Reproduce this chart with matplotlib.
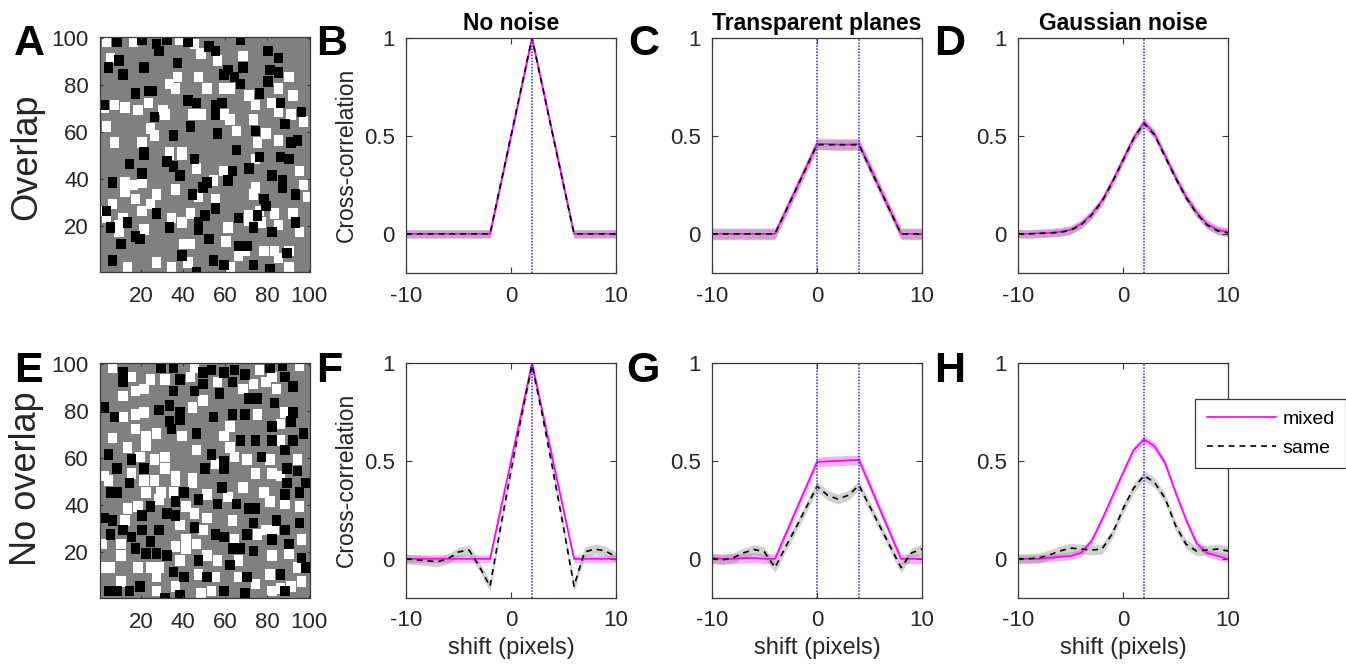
import numpy as np
import matplotlib
matplotlib.use('Agg')
import matplotlib.pyplot as plt
from matplotlib.lines import Line2D

plt.rcParams['font.family'] = ['Liberation Sans', 'DejaVu Sans']
plt.rcParams['axes.unicode_minus'] = False

W, H = 1346, 668

# shift axis (pixels)
shift = list(range(-10, 11))

# cross-correlation curves, x = -10..10
b_mixed = [0, 0, 0, 0, 0, 0, 0, 0, 0, 0.25, 0.5, 0.75, 1.0, 0.75, 0.5, 0.25, 0, 0, 0, 0, 0]
b_same = [0, 0, 0, 0, 0, 0, 0, 0, 0, 0.25, 0.5, 0.75, 1.0, 0.75, 0.5, 0.25, 0, 0, 0, 0, 0]
c_mixed = [0, 0, 0, 0, 0, 0, 0, 0.115, 0.23, 0.345, 0.46, 0.458, 0.456, 0.456, 0.458, 0.345, 0.23, 0.115, 0, 0, 0]
c_same = [0, 0, 0, 0, 0, 0, 0, 0.113, 0.227, 0.34, 0.455, 0.455, 0.455, 0.455, 0.455, 0.34, 0.227, 0.113, 0, 0, 0]
d_mixed = [0, 0, 0.003, 0.005, 0.01, 0.02, 0.05, 0.10, 0.17, 0.27, 0.38, 0.49, 0.57, 0.51, 0.40, 0.29, 0.19, 0.11, 0.05, 0.02, 0.01]
d_same = [0, 0, 0.002, 0.004, 0.008, 0.018, 0.045, 0.095, 0.165, 0.265, 0.375, 0.485, 0.565, 0.505, 0.395, 0.285, 0.185, 0.105, 0.045, 0.015, 0.005]
f_mixed = [0, 0, 0, 0, 0, 0, 0, 0, 0, 0.25, 0.5, 0.75, 1.0, 0.75, 0.5, 0.25, 0, 0, 0, 0, 0]
f_same = [0, -0.005, -0.01, -0.015, 0.0, 0.035, 0.045, -0.04, -0.14, 0.16, 0.45, 0.73, 0.99, 0.73, 0.45, 0.16, -0.14, 0.035, 0.05, 0.04, 0.01]
g_mixed = [0.005, 0, 0, 0.003, 0.005, 0, 0, 0.124, 0.248, 0.371, 0.495, 0.498, 0.5, 0.503, 0.505, 0.379, 0.252, 0.126, 0, 0, 0]
g_same = [0, -0.005, 0.005, 0.03, 0.048, 0.035, -0.045, 0.06, 0.16, 0.265, 0.37, 0.325, 0.305, 0.325, 0.375, 0.27, 0.165, 0.06, -0.045, 0.03, 0.05]
h_mixed = [0, 0, 0, 0.005, 0.01, 0.015, 0.03, 0.09, 0.2, 0.32, 0.44, 0.555, 0.61, 0.575, 0.49, 0.34, 0.2, 0.08, 0.03, 0.015, 0]
h_same = [0, 0, 0.005, 0.02, 0.04, 0.055, 0.05, 0.045, 0.05, 0.13, 0.255, 0.36, 0.425, 0.39, 0.31, 0.17, 0.075, 0.04, 0.045, 0.05, 0.04]

# half-width of shaded bands (mixed, same)
b_err = (0.022, 0.02)
c_err = (0.03, 0.025)
d_err = (0.022, 0.02)
f_err = (0.02, 0.025)
g_err = (0.025, 0.025)
h_err = (0.02, 0.025)

a_black = [(8, 98), (20, 99), (27, 97), (28, 94), (32, 99), (42, 98), (52, 96), (55, 94), (67, 99), (80, 94),
           (85, 91), (4, 87), (9, 90), (11, 84), (21, 87), (37, 89), (59, 84), (61, 86), (64, 83), (68, 87),
           (81, 86), (85, 85), (80, 81), (67, 80), (17, 76), (23, 77), (25, 77), (42, 73), (46, 72), (55, 71),
           (55, 67), (58, 72), (76, 76), (86, 72), (96, 68), (26, 66), (43, 62), (56, 59), (35, 58), (74, 60),
           (65, 52), (88, 63), (91, 55), (94, 56), (21, 51), (2, 71),
           (14, 46), (21, 50), (32, 47), (35, 45), (38, 41), (45, 48), (63, 43), (61, 39), (71, 44), (76, 49),
           (86, 49), (90, 48), (82, 41), (87, 39), (87, 36), (6, 38), (20, 42), (49, 36), (51, 38), (44, 33),
           (55, 27), (78, 31), (79, 28), (93, 33), (3, 26), (27, 25), (50, 24), (47, 21), (47, 18), (66, 23),
           (75, 24), (73, 19), (93, 21), (5, 19), (13, 21), (17, 15), (19, 14), (33, 19), (10, 12), (52, 14),
           (82, 17), (66, 11), (70, 11), (39, 7), (6, 5), (54, 5), (59, 3), (73, 3), (81, 1), (89, 8), (46, 0)]
a_white = [(3, 98), (16, 98), (38, 99), (45, 97), (48, 93), (56, 90), (68, 92), (5, 91), (37, 83), (33, 80),
           (36, 78), (47, 83), (51, 78), (59, 78), (62, 78), (71, 75), (85, 78), (90, 83), (92, 75), (2, 70),
           (7, 71), (12, 70), (18, 69), (23, 72), (30, 69), (31, 67), (44, 67), (48, 67), (59, 67), (62, 65),
           (74, 71), (73, 65), (82, 72), (85, 68), (91, 67), (3, 62), (24, 61), (26, 58), (20, 55), (7, 55),
           (33, 51), (39, 51), (65, 60), (79, 59), (75, 55), (85, 56), (97, 64),
           (33, 50), (39, 50), (74, 48), (46, 44), (59, 43), (95, 43), (54, 39), (12, 38), (16, 37), (20, 38),
           (12, 34), (36, 35), (47, 32), (74, 36), (73, 33), (17, 31), (27, 33), (24, 29), (55, 31), (6, 29),
           (97, 37), (99, 32), (1, 26), (20, 26), (43, 25), (11, 23), (3, 23), (9, 20), (34, 23), (39, 21),
           (71, 24), (76, 26), (71, 22), (77, 21), (83, 25), (92, 25), (85, 20), (61, 19), (21, 18), (9, 17),
           (95, 17), (60, 13), (43, 12), (40, 12), (69, 9), (66, 7), (78, 9), (83, 9), (85, 6), (90, 9),
           (27, 4), (13, 2), (34, 2), (42, 4), (62, 2), (90, 2)]
e_black = [(11, 96), (11, 92), (29, 98), (35, 98), (38, 93), (49, 96), (53, 97), (59, 96), (64, 97), (69, 95),
           (81, 98), (87, 99), (88, 94), (92, 90), (49, 91), (63, 92), (35, 88), (45, 88), (57, 87), (71, 85),
           (75, 85), (83, 83), (2, 81), (7, 77), (28, 80), (33, 82), (38, 79), (38, 76), (33, 75), (34, 72),
           (54, 77), (63, 78), (69, 78), (91, 75), (92, 79), (82, 73), (46, 70), (97, 70), (67, 67), (74, 67),
           (82, 67), (92, 67), (4, 61), (15, 59), (21, 55), (8, 55), (50, 55), (53, 61), (59, 58), (59, 55),
           (77, 60), (88, 63), (89, 55), (94, 54),
           (14, 49), (5, 45), (8, 45), (40, 45), (47, 42), (56, 40), (58, 47), (65, 40), (71, 38), (74, 38),
           (89, 49), (88, 44), (95, 45), (98, 49), (24, 39), (36, 41), (32, 36), (36, 35), (20, 35), (2, 34),
           (6, 33), (11, 29), (20, 29), (28, 29), (45, 30), (55, 27), (59, 26), (73, 32), (84, 33), (88, 29),
           (95, 32), (70, 27), (82, 25), (90, 23), (15, 26), (5, 27), (24, 24), (17, 21), (22, 19), (27, 19),
           (32, 18), (47, 16), (63, 21), (67, 21), (73, 20), (62, 14), (96, 17), (98, 13), (35, 11), (40, 9),
           (51, 9), (70, 9), (86, 10), (19, 5), (14, 3), (4, 3), (8, 3), (59, 3), (69, 2), (31, 0), (38, 1), (88, 3)]
e_white = [(6, 98), (15, 94), (24, 93), (31, 93), (43, 94), (45, 98), (56, 92), (73, 91), (76, 97), (82, 94),
           (79, 92), (84, 89), (95, 99), (68, 89), (17, 88), (21, 89), (11, 86), (49, 84), (44, 81), (11, 77),
           (17, 78), (21, 79), (75, 78), (88, 79), (86, 74), (62, 73), (17, 72), (27, 70), (22, 69), (22, 65),
           (39, 69), (59, 69), (6, 68), (86, 67), (13, 64), (46, 63), (62, 64), (64, 60), (19, 60), (26, 59),
           (31, 60), (31, 55), (36, 52), (15, 53), (2, 52), (55, 57), (70, 59), (81, 59), (94, 59), (74, 53),
           (82, 53), (86, 52), (44, 51),
           (4, 50), (21, 50), (26, 50), (36, 50), (44, 49), (22, 45), (29, 45), (28, 42), (35, 45), (51, 44),
           (61, 43), (68, 47), (78, 45), (81, 41), (88, 40), (95, 39), (13, 38), (18, 39), (41, 39), (45, 36),
           (12, 33), (38, 31), (51, 34), (63, 33), (49, 29), (79, 29), (83, 29), (75, 27), (64, 25), (96, 25),
           (41, 25), (41, 21), (46, 23), (36, 22), (10, 23), (1, 23), (10, 18), (51, 18), (38, 16), (56, 16),
           (66, 16), (82, 18), (90, 19), (2, 13), (5, 13), (18, 13), (24, 13), (28, 13), (27, 9), (47, 10),
           (55, 9), (66, 9), (74, 6), (81, 10), (94, 13), (96, 7), (91, 5), (10, 7), (36, 5), (48, 2),
           (53, 3), (82, 3), (86, 4), (27, 3)]

row_labels = ['Overlap', 'No overlap']
col_titles = ['No noise', 'Transparent planes', 'Gaussian noise']
img_ticks = [20, 40, 60, 80, 100]


def rect(x0, y0, x1, y1):
    return [x0 / W, 1 - y1 / H, (x1 - x0) / W, (y1 - y0) / H]


def make_image(black, white, side=9):
    # half-unit grid so a square can be 4.5 units wide
    img = np.full((202, 202), 0.5)
    for pts, v in [(white, 1.0), (black, 0.0)]:
        for x, y in pts:
            r0, c0 = max(2 * y - side // 2, 0), max(2 * x - side // 2, 0)
            img[r0:2 * y - side // 2 + side, c0:2 * x - side // 2 + side] = v
    return img


def style(ax, labelsize=16):
    for sp in ax.spines.values():
        sp.set_color('#3a3a3a')
        sp.set_linewidth(0.9)
    ax.tick_params(direction='in', length=4, width=0.8, top=True, right=True,
                   labelsize=labelsize, labelcolor='#262626', color='#3a3a3a')
    ax.tick_params(axis='x', pad=9)
    ax.tick_params(axis='y', pad=8)


def image_panel(ax, black, white):
    ax.imshow(make_image(black, white), cmap='gray', vmin=0, vmax=1, origin='lower',
              extent=(0.25, 101.25, 0.25, 101.25), aspect='auto', interpolation='nearest')
    ax.set_xlim(0.5, 100.5)
    ax.set_ylim(0.5, 100.5)
    ax.set_xticks(img_ticks)
    ax.set_yticks(img_ticks)
    style(ax)
    ax.tick_params(axis='x', pad=10, length=2)
    ax.tick_params(axis='y', length=2)


def curve_panel(ax, mixed, same, err, vlines):
    m = np.array(mixed)
    s = np.array(same)
    ax.fill_between(shift, m - err[0], m + err[0], color='#e070e0', alpha=0.5, lw=0)
    ax.fill_between(shift, s - err[1], s + err[1], color='#8c8c8c', alpha=0.4, lw=0)
    ax.plot(shift, m, color='#ff00ff', lw=1.2)
    ax.plot(shift, s, color='black', lw=1.2, ls=(0, (3.5, 3)))
    for v in vlines:
        ax.axvline(v, color='#2a2ae0', lw=1.1, ls=(0, (1, 1)), zorder=5)
    ax.set_xlim(-10, 10)
    ax.set_ylim(-0.2, 1)
    ax.set_xticks([-10, 0, 10])
    ax.set_yticks([0, 0.5, 1])
    ax.set_yticklabels(['0', '0.5', '1'])
    style(ax)


fig = plt.figure(figsize=(W / 100, H / 100), dpi=100)

top_y, bot_y = (37, 272), (363, 598)
cols_x = [(406, 616), (712, 922), (1018, 1228)]

ax_a = fig.add_axes(rect(100, top_y[0], 310, top_y[1]))
image_panel(ax_a, a_black, a_white)
ax_e = fig.add_axes(rect(100, bot_y[0], 310, bot_y[1]))
image_panel(ax_e, e_black, e_white)

top_data = [(b_mixed, b_same, b_err, [2]), (c_mixed, c_same, c_err, [0, 4]), (d_mixed, d_same, d_err, [2])]
bot_data = [(f_mixed, f_same, f_err, [2]), (g_mixed, g_same, g_err, [0, 4]), (h_mixed, h_same, h_err, [2])]

for i, (x0, x1) in enumerate(cols_x):
    ax = fig.add_axes(rect(x0, top_y[0] + 1, x1, top_y[1] + 1))
    curve_panel(ax, *top_data[i])
    ax.set_title(col_titles[i], fontsize=16.5, fontweight='bold', pad=6)
    ax = fig.add_axes(rect(x0, bot_y[0], x1, bot_y[1]))
    curve_panel(ax, *bot_data[i])
    ax.set_xlabel('shift (pixels)', fontsize=17, labelpad=4, color='#262626')

# y labels for first curve column
fig.text(346 / W, 1 - 155 / H, 'Cross-correlation', rotation=90, fontsize=16.5,
         ha='center', va='center', color='#262626')
fig.text(346 / W, 1 - 480 / H, 'Cross-correlation', rotation=90, fontsize=16.5,
         ha='center', va='center', color='#262626')

# row labels
fig.text(27 / W, 1 - 157 / H, row_labels[0], rotation=90, fontsize=26, ha='center', va='center', color='#262626')
fig.text(27 / W, 1 - 479 / H, row_labels[1], rotation=90, fontsize=26, ha='center', va='center', color='#262626')

# panel letters
letters = [('A', 14, 55), ('B', 316, 55), ('C', 628, 55), ('D', 934, 55),
           ('E', 14, 382), ('F', 316, 382), ('G', 626, 382), ('H', 934, 382)]
for t, x, y in letters:
    fig.text(x / W, 1 - y / H, t, fontsize=31, fontweight='bold', ha='left', va='baseline')

handles = [Line2D([], [], color='#ff00ff', lw=1.2),
           Line2D([], [], color='black', lw=1.2, ls=(0, (3.5, 3)))]
leg = fig.legend(handles, ['mixed', 'same'], loc='upper left', bbox_to_anchor=(1195 / W, 1 - 399 / H),
                 fontsize=14, frameon=True, fancybox=False, framealpha=1, edgecolor='#3a3a3a',
                 handlelength=3.55, handletextpad=0.35, borderpad=0.6, labelspacing=0.55, borderaxespad=0)
leg.get_frame().set_linewidth(0.9)

fig.savefig('out.png', dpi=100)
